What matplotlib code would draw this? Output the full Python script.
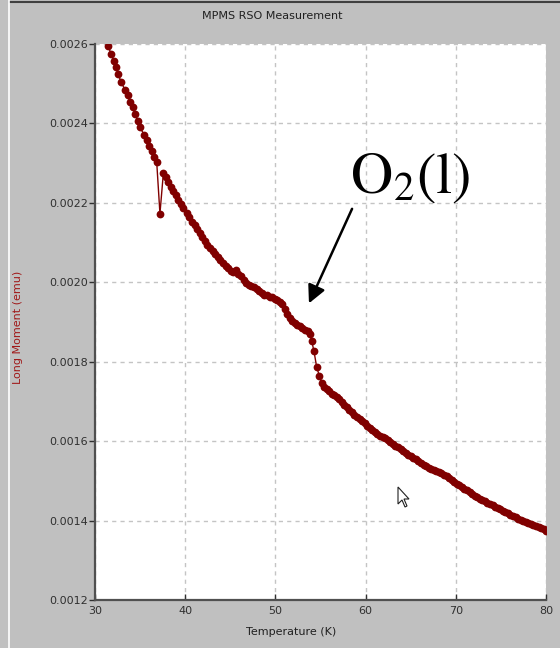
import matplotlib
matplotlib.use("Agg")
import matplotlib.pyplot as plt
from matplotlib.ticker import FormatStrFormatter, MultipleLocator
from matplotlib.patches import Polygon
from matplotlib.lines import Line2D

# temperatura (K) e momento (x1e-3 emu)
temperature = [
    31.47, 31.77, 32.10, 32.33, 32.58, 32.88, 33.33, 33.62, 33.88, 34.18,
    34.43, 34.73, 34.99, 35.46, 35.73, 35.99, 36.29, 36.58, 36.84, 37.20,
    37.58, 37.83, 38.13, 38.43, 38.68, 38.95, 39.24, 39.53, 39.79, 40.16,
    40.46, 40.75, 41.05, 41.34, 41.62, 41.90, 42.18, 42.47, 42.76, 43.05,
    43.33, 43.62, 43.90, 44.19, 44.48, 44.77, 45.05, 45.33, 45.62, 45.90,
    46.19, 46.47, 46.76, 47.05, 47.33, 47.62, 47.91, 48.20, 48.49, 48.78,
    49.07, 49.36, 49.65, 49.94, 50.22, 50.50, 50.78, 51.05, 51.32, 51.60,
    51.88, 52.16, 52.44, 52.72, 53.00, 53.28, 53.56, 53.82, 54.02, 54.28,
    54.58, 54.87, 55.13, 55.40, 55.69, 55.97, 56.25, 56.53, 56.81, 57.08,
    57.36, 57.64, 57.92, 58.20, 58.48, 58.76, 59.05, 59.33, 59.62, 59.90,
    60.18, 60.46, 60.75, 61.03, 61.31, 61.60, 61.88, 62.16, 62.45, 62.73,
    63.01, 63.30, 63.58, 63.87, 64.15, 64.43, 64.72, 65.00, 65.28, 65.57,
    65.85, 66.13, 66.42, 66.70, 66.98, 67.27, 67.55, 67.83, 68.12, 68.40,
    68.68, 68.97, 69.25, 69.53, 69.82, 70.10, 70.38, 70.67, 70.95, 71.23,
    71.52, 71.80, 72.08, 72.37, 72.65, 72.93, 73.22, 73.50, 73.78, 74.07,
    74.35, 74.63, 74.92, 75.20, 75.48, 75.77, 76.05, 76.33, 76.62, 76.90,
    77.18, 77.47, 77.75, 78.03, 78.32, 78.60, 78.88, 79.17, 79.45, 79.73,
    80.02,
]
moment_memu = [
    2.595, 2.575, 2.557, 2.541, 2.524, 2.505, 2.484, 2.471, 2.454, 2.442,
    2.423, 2.407, 2.390, 2.371, 2.358, 2.343, 2.331, 2.316, 2.303, 2.173,
    2.275, 2.265, 2.253, 2.240, 2.230, 2.219, 2.207, 2.196, 2.186, 2.175,
    2.164, 2.153, 2.143, 2.134, 2.124, 2.114, 2.103, 2.093, 2.086, 2.079,
    2.072, 2.064, 2.056, 2.049, 2.041, 2.035, 2.029, 2.026, 2.030, 2.022,
    2.015, 2.006, 1.999, 1.994, 1.990, 1.987, 1.983, 1.977, 1.973, 1.969,
    1.967, 1.964, 1.962, 1.959, 1.955, 1.951, 1.945, 1.933, 1.921, 1.911,
    1.903, 1.897, 1.892, 1.889, 1.885, 1.881, 1.877, 1.871, 1.853, 1.826,
    1.786, 1.765, 1.746, 1.737, 1.731, 1.725, 1.719, 1.716, 1.711, 1.705,
    1.698, 1.692, 1.686, 1.679, 1.673, 1.666, 1.661, 1.657, 1.651, 1.645,
    1.639, 1.634, 1.628, 1.624, 1.619, 1.614, 1.611, 1.607, 1.602, 1.598,
    1.594, 1.589, 1.585, 1.581, 1.575, 1.571, 1.566, 1.562, 1.558, 1.554,
    1.550, 1.546, 1.541, 1.537, 1.533, 1.529, 1.527, 1.525, 1.522, 1.521,
    1.516, 1.511, 1.507, 1.502, 1.498, 1.493, 1.489, 1.485, 1.480, 1.476,
    1.471, 1.466, 1.462, 1.459, 1.455, 1.452, 1.449, 1.445, 1.442, 1.439,
    1.435, 1.432, 1.429, 1.425, 1.421, 1.418, 1.415, 1.411, 1.408, 1.405,
    1.402, 1.399, 1.396, 1.393, 1.391, 1.388, 1.386, 1.384, 1.381, 1.378,
    1.374,
]
moment = [m * 1e-3 for m in moment_memu]

W, H = 560, 648
BG = '#c0c0c0'
DARKRED = '#800000'

plt.rcParams['mathtext.fontset'] = 'stix'

fig = plt.figure(figsize=(W / 100, H / 100), dpi=100, facecolor=BG)
ax = fig.add_axes([95 / W, 1 - 600 / H, (546 - 95) / W, (600 - 44) / H])
ax.set_facecolor('white')

ax.plot(temperature, moment, color=DARKRED, lw=1, marker='o', markersize=5.6,
        markeredgewidth=0, clip_on=True, zorder=3)

ax.set_xlim(30, 80)
ax.set_ylim(0.0012, 0.0026)
ax.xaxis.set_major_locator(MultipleLocator(10))
ax.yaxis.set_major_locator(MultipleLocator(0.0002))
ax.yaxis.set_major_formatter(FormatStrFormatter('%.4f'))

ax.grid(True, linestyle=(0, (3, 3)), color='#c4c4c4', lw=1)
for s in ['top', 'right']:
    ax.spines[s].set_visible(False)
for s in ['left', 'bottom']:
    ax.spines[s].set_color('#505050')
    ax.spines[s].set_linewidth(1.6)
ax.tick_params(axis='y', direction='out', length=4, width=1, pad=1,
               labelsize=8, colors='#303030')
ax.tick_params(axis='x', direction='in', length=4, width=1, pad=4,
               labelsize=8, colors='#303030')

# titulos
fig.text(272 / W, 1 - 16 / H, 'MPMS RSO Measurement', ha='center',
         va='center', fontsize=8, color='#202020')
fig.text(291 / W, 1 - 632 / H, 'Temperature (K)', ha='center',
         va='center', fontsize=8, color='#202020')
fig.text(18 / W, 1 - 327 / H, 'Long Moment (emu)', ha='center',
         va='center', rotation=90, fontsize=8, color='#a01818')

# anotacao O2(l)
ax.annotate('', xy=(53.72, 0.001947), xytext=(58.5, 0.002185),
            arrowprops=dict(arrowstyle='-|>,head_length=0.4,head_width=0.2',
                            color='black', lw=1.8, mutation_scale=27,
                            shrinkA=0, shrinkB=0), zorder=5)
ax.text(64.9, 0.002227, r'$\mathrm{O_2(l)}$', ha='center', va='baseline',
        fontsize=42, color='black', zorder=5)

# cursor do mouse
cur = [(0, 0), (0, 17), (4, 13), (7, 20), (9, 19), (6, 12), (11, 12)]
fig.add_artist(Polygon([((398 + x) / W, 1 - (487 + y) / H) for x, y in cur],
                       closed=True, facecolor='white', edgecolor='#202020',
                       lw=0.8, transform=fig.transFigure, zorder=10))

# bordas da janela
fig.add_artist(Line2D([10 / W, 1], [1 - 2 / H, 1 - 2 / H], color='#404040',
                      lw=1.5, transform=fig.transFigure))
fig.add_artist(Line2D([9 / W, 9 / W], [0, 1], color='white', lw=1.2,
                      transform=fig.transFigure))

fig.savefig('out.png', dpi=100, facecolor=BG)
plt.close(fig)
